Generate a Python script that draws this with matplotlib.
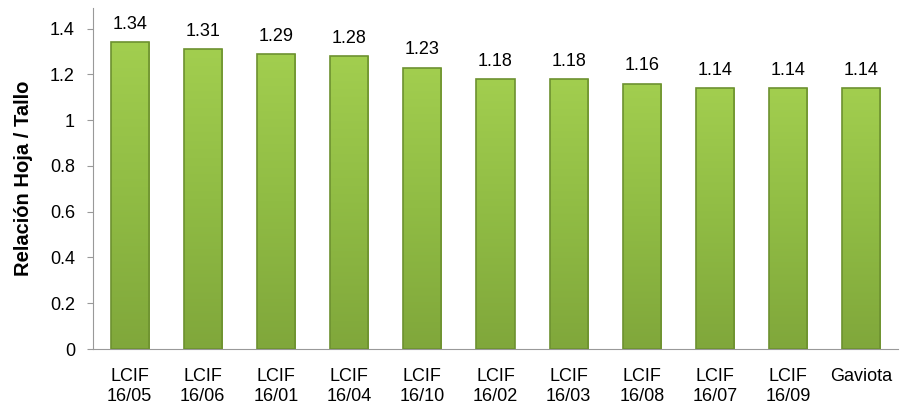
import matplotlib.pyplot as plt
import numpy as np
from matplotlib.colors import LinearSegmentedColormap

# Data
categories = ['LCIF\n16/05', 'LCIF\n16/06', 'LCIF\n16/01', 'LCIF\n16/04', 'LCIF\n16/10',
              'LCIF\n16/02', 'LCIF\n16/03', 'LCIF\n16/08', 'LCIF\n16/07', 'LCIF\n16/09',
              'Gaviota']
ratios = [1.34, 1.31, 1.29, 1.28, 1.23, 1.18, 1.18, 1.16, 1.14, 1.14, 1.14]

plt.rcParams['font.family'] = ['Liberation Sans', 'DejaVu Sans']

fig = plt.figure(figsize=(9.01, 4.09), dpi=100)
ax = fig.add_axes([93 / 901, 60 / 409, 805 / 901, 341 / 409])

x = np.arange(len(categories))
bars = ax.bar(x, ratios, width=0.52, color='#93c247', edgecolor='#6d9130', linewidth=1.2, zorder=2)

# green gradient inside each bar (light at top, darker at bottom)
cmap = LinearSegmentedColormap.from_list('greens', ['#80a73b', '#90bc44', '#a2ce4f'])
grad = np.linspace(0, 1, 256).reshape(-1, 1)
for b in bars:
    x0, w, h = b.get_x(), b.get_width(), b.get_height()
    im = ax.imshow(grad, cmap=cmap, aspect='auto', origin='lower',
                   extent=[x0, x0 + w, 0, h], zorder=2.5)
    im.set_clip_path(b)
    b.set_facecolor('none')
    b.set_zorder(3)

# value labels above each bar
for xi, v in zip(x, ratios):
    ax.text(xi, v + 0.04, f'{v:.2f}', ha='center', va='bottom', fontsize=13)

ax.set_xlim(-0.5, len(categories) - 0.5)
ax.set_ylim(0, 1.49)
ax.set_yticks(np.arange(0, 1.41, 0.2))
ax.set_yticklabels(['0', '0.2', '0.4', '0.6', '0.8', '1', '1.2', '1.4'])
ax.set_xticks(x)
ax.set_xticklabels(categories)
ax.tick_params(axis='y', labelsize=13, length=4, color='#999999', pad=9)
ax.tick_params(axis='x', labelsize=13, length=0, pad=14)

for side in ['top', 'right']:
    ax.spines[side].set_visible(False)
for side in ['left', 'bottom']:
    ax.spines[side].set_color('#999999')

ax.set_ylabel('Relación Hoja / Tallo', fontsize=14.5, fontweight='bold', labelpad=12)

plt.savefig('out.png', dpi=100)
plt.close()
